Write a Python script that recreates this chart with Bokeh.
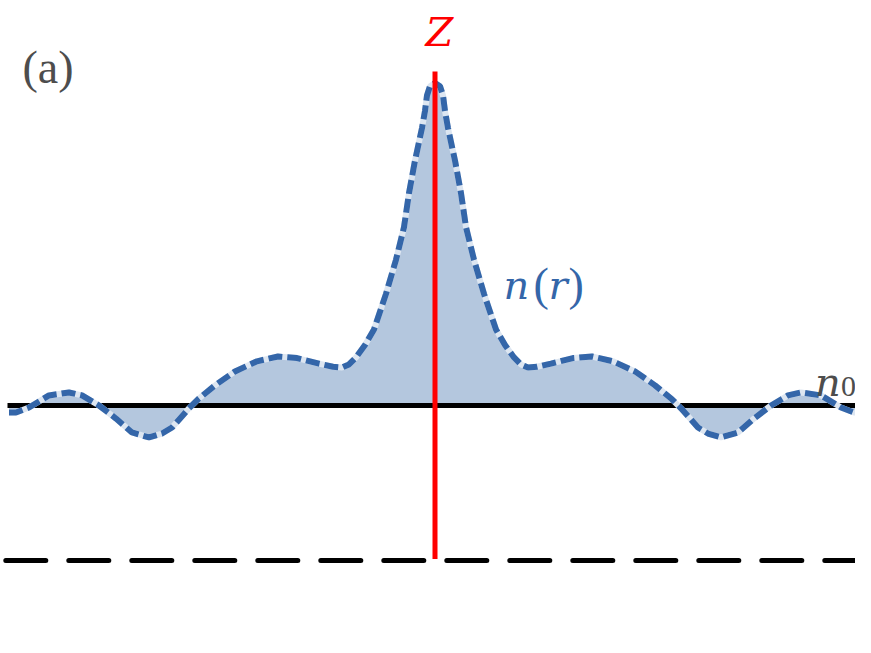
from bokeh.plotting import figure
from bokeh.models import Range1d, Label
from bokeh.embed import file_html
from bokeh.resources import INLINE

# half profile n(r)/n0 for r >= 0 (symmetric profile)
r_half = [0.00, 0.05, 0.08, 0.10, 0.13, 0.20, 0.26, 0.31, 0.39, 0.49, 0.61, 0.70,
          0.79, 0.86, 0.93, 1.02, 1.16, 1.38, 1.57, 1.78, 2.00, 2.20, 2.37, 2.46,
          2.63, 2.73, 2.86, 3.03, 3.19, 3.36, 3.53, 3.66, 3.86, 4.06, 4.19, 4.26]
n_half = [3.08, 3.06, 3.00, 2.90, 2.79, 2.58, 2.37, 2.15, 1.94, 1.72, 1.49, 1.39,
          1.31, 1.265, 1.245, 1.25, 1.27, 1.306, 1.316, 1.285, 1.22, 1.13, 1.04, 0.982,
          0.858, 0.819, 0.794, 0.826, 0.916, 1.0, 1.065, 1.084, 1.065, 0.987, 0.955, 0.955]

r = [-v for v in r_half[:0:-1]] + r_half
n = n_half[:0:-1] + n_half

n0 = 1.0          # background density level
n_base = 0.0      # dashed reference level
z_top = 3.155     # top of the Z axis line

BLUE = "#3466a9"
FILL = "#b4c7de"
GAP = "#dde6f1"
GRAY = "#4d4d4d"
FONT = "Liberation Serif"
IFONT = "DejaVu Serif"

p = figure(width=855, height=637, x_range=Range1d(-4.345, 4.205),
           y_range=Range1d(-0.4968, 3.6129), output_backend="svg",
           toolbar_location=None, min_border=0, x_axis_type=None, y_axis_type=None)
p.xgrid.visible = False
p.ygrid.visible = False
p.outline_line_color = None
p.background_fill_color = "white"

# filled area between n(r) and n0
p.varea(x=r, y1=[n0] * len(r), y2=n, fill_color=FILL, fill_alpha=1.0)

# n0 level line
p.line([-4.275, 4.275], [n0, n0], line_color="black", line_width=5)
# dashed reference line
p.line([-4.292, 4.26], [n_base, n_base], line_color="black", line_width=5,
       line_dash="40 23", line_cap="round")

# n(r) curve: light under-line + dashed blue line
p.line(r, n, line_color=GAP, line_width=6)
p.line(r, n, line_color=BLUE, line_width=6, line_dash="14 5")

# Z axis
p.line([0, 0], [n_base + 0.01, z_top], line_color="#ff0000", line_width=5)

def lab(x, y, text, color, style="normal", size="46px", align="left", font=FONT):
    p.add_layout(Label(x=x, y=y, text=text, text_color=color, text_font=font,
                       text_font_size=size, text_font_style=style,
                       text_baseline="alphabetic", text_align=align))

lab(-4.125, 3.18, "(a)", GRAY)
lab(0.045, 3.41, "Z", "#ff0000", style="italic", align="center", font=IFONT, size="40px")

lab(0.685, 1.78, "n", BLUE, style="italic", font=IFONT, size="40px")
lab(0.985, 1.78, "(", BLUE)
lab(1.135, 1.78, "r", BLUE, style="italic", font=IFONT, size="40px")
lab(1.335, 1.78, ")", BLUE)

lab(3.80, 1.15, "n", GRAY, style="italic", font=IFONT, size="40px")
lab(4.06, 1.12, "0", GRAY, size="30px")

open("out.html", "w").write(file_html(p, INLINE))
